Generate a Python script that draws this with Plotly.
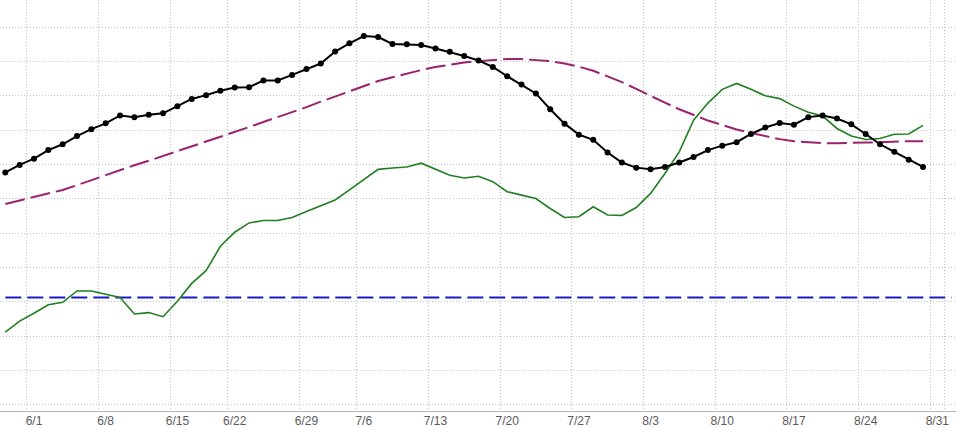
import pandas as pd
import plotly.graph_objects as go

# trading days 5/28 - 9/1 (market holidays 6/19 and 7/3 dropped)
holidays = ["2026-06-19", "2026-07-03"]
days = [d.strftime("%Y-%m-%d") for d in pd.bdate_range("2026-05-28", "2026-09-01")
        if d.strftime("%Y-%m-%d") not in holidays]

tick_dates = ["2026-06-01", "2026-06-08", "2026-06-15", "2026-06-22", "2026-06-29",
              "2026-07-06", "2026-07-13", "2026-07-20", "2026-07-27", "2026-08-03",
              "2026-08-10", "2026-08-17", "2026-08-24", "2026-08-31"]
tick_labels = ["6/1", "6/8", "6/15", "6/22", "6/29", "7/6", "7/13", "7/20",
               "7/27", "8/3", "8/10", "8/17", "8/24", "8/31"]

price = [67.7, 69.9, 71.7, 74.2, 75.9, 78.3, 80.3, 82.0, 84.3, 83.8,
         84.5, 84.9, 87.0, 89.1, 90.2, 91.5, 92.4, 92.5, 94.5, 94.5,
         96.1, 97.8, 99.4, 102.9, 105.3, 107.4, 107.1, 105.1, 105.0, 104.8,
         103.8, 102.8, 101.6, 100.3, 98.4, 95.7, 93.3, 90.7, 86.1, 81.9,
         78.7, 77.2, 73.5, 70.6, 69.1, 68.6, 69.3, 70.6, 72.2, 74.2,
         75.5, 76.5, 78.9, 80.8, 82.1, 81.6, 83.8, 84.3, 83.4, 81.7,
         78.9, 75.9, 73.7, 71.4, 69.3]

avg = [58.5, 59.5, 60.5, 61.5, 62.6, 64.0, 65.5, 66.9, 68.4, 69.8,
       71.1, 72.5, 73.8, 75.1, 76.5, 78.0, 79.4, 80.9, 82.4, 83.8,
       85.3, 86.7, 88.3, 89.8, 91.2, 92.7, 94.3, 95.4, 96.5, 97.5,
       98.4, 99.1, 99.7, 100.1, 100.5, 100.7, 100.7, 100.5, 100.1, 99.4,
       98.5, 97.3, 95.7, 94.0, 92.0, 89.9, 88.0, 86.1, 84.5, 82.8,
       81.5, 80.2, 79.2, 78.3, 77.4, 76.8, 76.4, 76.2, 76.2, 76.2,
       76.4, 76.5, 76.7, 76.8, 76.8]

indicator = [21.2, 24.4, 26.7, 29.2, 29.9, 33.2, 33.2, 32.3, 31.3, 26.5,
             26.9, 25.7, 30.2, 35.4, 39.1, 46.2, 50.3, 53.0, 53.7, 53.7,
             54.6, 56.3, 57.9, 59.7, 62.6, 65.6, 68.6, 69.0, 69.3, 70.4,
             68.7, 66.9, 66.1, 66.6, 65.0, 62.1, 61.1, 60.1, 57.2, 54.6,
             54.8, 57.7, 55.3, 55.2, 57.5, 61.6, 67.4, 73.7, 82.9, 87.9,
             91.9, 93.6, 91.9, 90.0, 89.2, 87.0, 85.2, 84.1, 80.5, 78.3,
             77.3, 77.6, 78.8, 78.9, 81.4]

level = 31.3

fig = go.Figure()

fig.add_trace(go.Scatter(
    x=[days[0], days[-1]], y=[level, level], mode="lines",
    line=dict(color="#1a1ac4", width=2, dash="16px,6px")))

fig.add_trace(go.Scatter(
    x=days[:len(avg)], y=avg, mode="lines",
    line=dict(color="#9c2270", width=2, dash="20px,6px")))

fig.add_trace(go.Scatter(
    x=days[:len(indicator)], y=indicator, mode="lines",
    line=dict(color="#217f21", width=1.6)))

fig.add_trace(go.Scatter(
    x=days[:len(price)], y=price, mode="lines+markers",
    line=dict(color="black", width=2),
    marker=dict(color="black", size=6)))

fig.update_layout(
    width=956, height=428,
    margin=dict(l=0, r=0, t=0, b=17),
    paper_bgcolor="white", plot_bgcolor="white",
    showlegend=False,
    font=dict(family="Liberation Sans, Arial", size=12, color="#5a5a5a"),
)

grid = dict(showgrid=True, gridcolor="#c4c4c4", griddash="1px,2px", gridwidth=1)

fig.update_xaxes(
    type="category", categoryorder="array", categoryarray=days,
    range=[-0.37, 66.3],
    tickmode="array", tickvals=tick_dates, ticktext=tick_labels,
    tickson="boundaries", ticks="", tickangle=0, ticklabelstandoff=-1,
    showline=True, linecolor="#b4b4b4", linewidth=1,
    automargin=False, **grid,
)

fig.update_yaxes(
    range=[-1.75, 117.9], dtick=10, tick0=0,
    zeroline=False, showticklabels=False, automargin=False, **grid,
)

# drop the browser's default page margin so the chart fills the window
fig.write_html("out.html", config={"displayModeBar": False},
               post_script="document.body.style.margin='0';")
